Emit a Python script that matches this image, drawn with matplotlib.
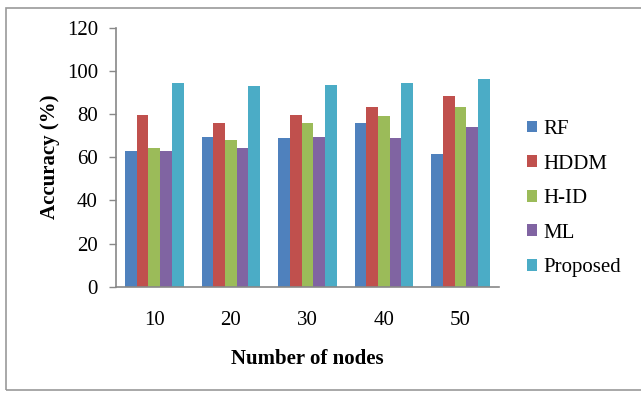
import matplotlib.pyplot as plt
import numpy as np
from matplotlib.patches import Rectangle

# values
nodes = ["10", "20", "30", "40", "50"]
series_names = ["RF", "HDDM", "H-ID", "ML", "Proposed"]
rf = [62.8, 69.4, 68.8, 75.7, 61.6]
hddm = [79.4, 75.7, 79.4, 83.3, 88.4]
hid = [64.3, 67.9, 75.7, 79.0, 83.3]
ml = [62.8, 64.3, 69.3, 68.8, 73.9]
proposed = [94.5, 92.8, 93.3, 94.5, 96.1]
yticks = [0, 20, 40, 60, 80, 100, 120]

colors = ["#4F81BD", "#C0504D", "#9BBB59", "#8064A2", "#4BACC6"]
all_series = [rf, hddm, hid, ml, proposed]

plt.rcParams['font.family'] = ['Liberation Serif', 'DejaVu Serif']
fs = 15

fig = plt.figure(figsize=(6.41, 3.93), dpi=100)
ax = fig.add_axes([0.181, 0.270, 0.597, 0.660])

x = np.arange(len(nodes))
w = 0.153
for i, (name, vals) in enumerate(zip(series_names, all_series)):
    ax.bar(x + (i - 2) * w, vals, width=w, color=colors[i], label=name,
           linewidth=0)

ax.set_xlim(-0.5, len(nodes) - 0.5)
ax.set_ylim(0, 120)
ax.set_yticks(yticks)
ax.set_xticks(x)
ax.set_xticklabels(nodes)
ax.tick_params(axis='x', length=0, pad=17, labelsize=fs)
ax.tick_params(axis='y', length=5, width=1, color="#888888", labelsize=fs, pad=8)

for s in ["top", "right"]:
    ax.spines[s].set_visible(False)
for s in ["left", "bottom"]:
    ax.spines[s].set_color("#888888")
    ax.spines[s].set_linewidth(1.2)

ax.set_xlabel("Number of nodes", fontsize=fs, fontweight="bold", labelpad=14)
ax.set_ylabel("Accuracy (%)", fontsize=fs, fontweight="bold", labelpad=5)

ax.legend(loc="center left", bbox_to_anchor=(1.046, 0.34), frameon=False,
          fontsize=fs, handlelength=0.5, handleheight=0.5, handletextpad=0.3,
          labelspacing=0.75, borderpad=0)

# light border around the whole chart
fig.patches.append(Rectangle((6 / 641, 3 / 393), 1.0, 382 / 393,
                             transform=fig.transFigure, fill=False,
                             edgecolor="#999999", linewidth=1.2))

fig.savefig("out.png", dpi=100)
